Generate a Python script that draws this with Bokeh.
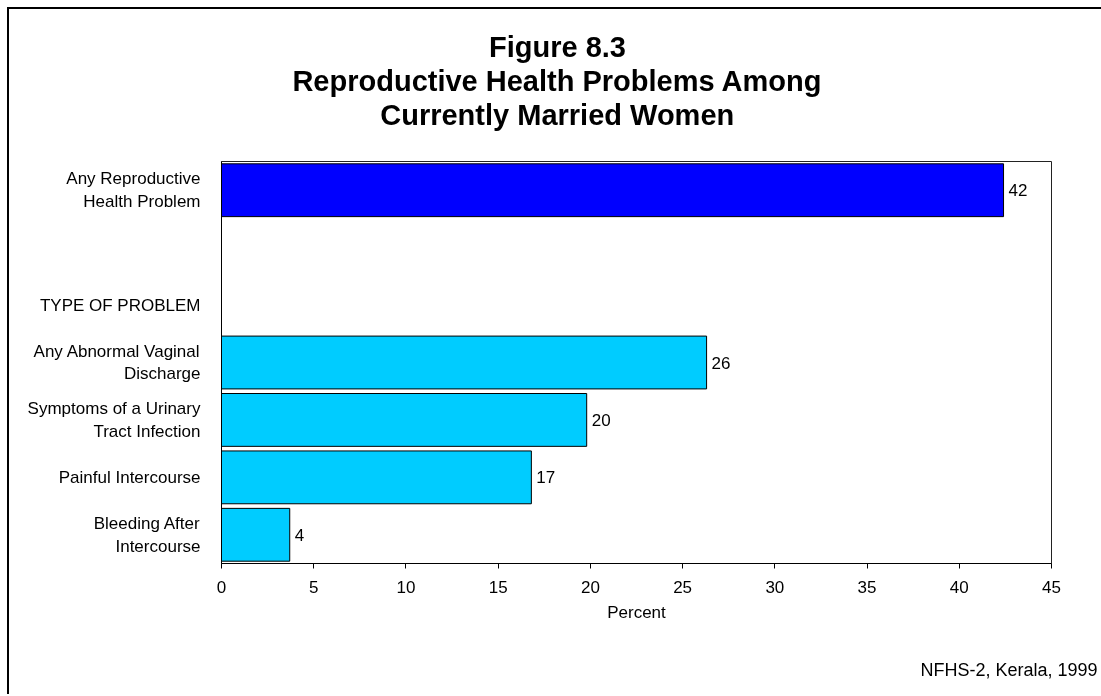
from bokeh.plotting import figure
from bokeh.models import Range1d, FixedTicker, ColumnDataSource, LabelSet, Title
from bokeh.core.properties import value
from bokeh.embed import file_html
from bokeh.resources import INLINE

# ---- data ----
categories = [
    "Any Reproductive\nHealth Problem",
    "",
    "TYPE OF PROBLEM",
    "Any Abnormal Vaginal\nDischarge",
    "Symptoms of a Urinary\nTract Infection",
    "Painful Intercourse",
    "Bleeding After\nIntercourse",
]
bar_categories = [
    "Any Reproductive\nHealth Problem",
    "Any Abnormal Vaginal\nDischarge",
    "Symptoms of a Urinary\nTract Infection",
    "Painful Intercourse",
    "Bleeding After\nIntercourse",
]
values = [42.4, 26.3, 19.8, 16.8, 3.7]
value_labels = ["42", "26", "20", "17", "4"]
bar_colors = ["#0000FF", "#00CCFF", "#00CCFF", "#00CCFF", "#00CCFF"]
x_ticks = [0, 5, 10, 15, 20, 25, 30, 35, 40, 45]
title_lines = ["Figure 8.3", "Reproductive Health Problems Among", "Currently Married Women"]
x_label = "Percent"
source_note = "NFHS-2, Kerala, 1999"

FONT = "Liberation Sans"
TITLE_PX = 29
SMALL = "17px"

# Arial/Liberation Sans Bold advance widths (per 1000 em) for centring title lines
BOLD_W = {" ": 278, "F": 611, "i": 278, "g": 611, "u": 611, "r": 389, "e": 556,
          "8": 556, ".": 278, "3": 556, "R": 722, "p": 611, "o": 611, "d": 611,
          "c": 556, "t": 333, "v": 556, "H": 722, "a": 556, "l": 278, "h": 611,
          "P": 667, "b": 611, "m": 889, "s": 556, "A": 722, "n": 611, "C": 722,
          "y": 556, "M": 833, "W": 944}

def text_width(s, px):
    return sum(BOLD_W.get(ch, 600) for ch in s) * px / 1000.0

n = len(categories)
pos_of = {c: n - 1 - i for i, c in enumerate(categories)}
bar_pos = [pos_of[c] for c in bar_categories]

src = ColumnDataSource(dict(y=bar_pos, right=values, color=bar_colors, lab=value_labels))

FRAME_LEFT = 221      # page x of plot frame left
CANVAS_X = 9          # page x of canvas origin
TITLE_CENTER = 557    # page x of title centre

p = figure(width=1100, height=687, output_backend="svg", toolbar_location=None,
           x_range=Range1d(0, 45), y_range=Range1d(-0.5, n - 0.5),
           min_border_left=FRAME_LEFT - CANVAS_X, min_border_right=58,
           min_border_top=152, min_border_bottom=133)
# page frame: only its left and top edges fall inside the window
p.styles = {"position": "fixed", "left": "7px", "top": "7px",
            "border-left": "2px solid black", "border-top": "2px solid black"}

p.hbar(y="y", right="right", left=0, height=0.92, fill_color="color",
       line_color="black", line_width=1, source=src)

p.add_layout(LabelSet(x="right", y="y", text="lab", source=src, x_offset=5,
                      text_baseline="middle", text_align="left",
                      text_font=value(FONT), text_font_size=value(SMALL),
                      text_color="black"))

# axes
p.xgrid.visible = False
p.ygrid.visible = False
p.outline_line_color = "#222222"
p.outline_line_width = 1

xa = p.xaxis[0]
xa.ticker = FixedTicker(ticks=x_ticks)
xa.axis_label = x_label
xa.axis_label_text_font = FONT
xa.axis_label_text_font_style = "normal"
xa.axis_label_text_font_size = SMALL
xa.axis_label_text_color = "black"
xa.axis_label_standoff = 7
xa.major_label_text_font = FONT
xa.major_label_text_font_size = SMALL
xa.major_label_text_color = "black"
xa.major_label_standoff = 12
xa.major_tick_out = 5
xa.major_tick_in = 0
xa.minor_tick_line_color = None
xa.axis_line_color = "black"
xa.major_tick_line_color = "black"

ya = p.yaxis[0]
ya.ticker = FixedTicker(ticks=list(range(n)))
ya.major_label_overrides = {pos_of[c]: c for c in categories}
ya.major_label_text_font = FONT
ya.major_label_text_font_size = SMALL
ya.major_label_text_color = "black"
ya.major_label_standoff = 15
ya.major_tick_line_color = None
ya.minor_tick_line_color = None
ya.axis_line_color = "black"

# gap between frame and title block
p.add_layout(Title(text=" ", text_font_size="1px", standoff=27), "above")
# title lines, nearest to frame added first
for t in reversed(title_lines):
    off = TITLE_CENTER - FRAME_LEFT - text_width(t, TITLE_PX) / 2
    p.add_layout(Title(text=t, align="left", offset=off, standoff=0,
                       vertical_align="middle",
                       text_font=FONT, text_font_size=f"{TITLE_PX}px",
                       text_font_style="bold", text_color="black"), "above")

# gap between axis and source note
p.add_layout(Title(text=" ", text_font_size="1px", standoff=17), "below")
p.add_layout(Title(text=source_note, align="right", offset=-46, standoff=29,
                   vertical_align="middle",
                   text_font=FONT, text_font_size="18px", text_font_style="normal",
                   text_color="black"), "below")

open("out.html", "w").write(file_html(p, INLINE))
